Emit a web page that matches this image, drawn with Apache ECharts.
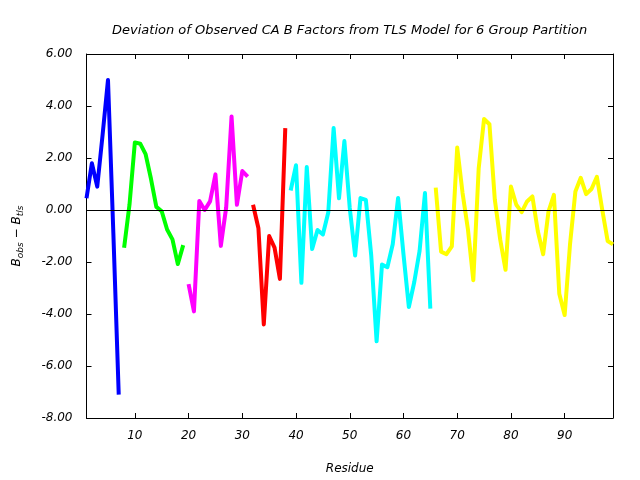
<!DOCTYPE html>
<html><head><meta charset="utf-8">
<script src="https://cdn.jsdelivr.net/npm/echarts@6/dist/echarts.min.js"></script>
<style>html,body{margin:0;padding:0;background:#fff}#c{width:640px;height:480px}</style>
</head><body><div id="c"></div>
<script>
const titleText = 'Deviation of Observed CA B Factors from TLS Model for 6 Group Partition';
const xTicks = [10, 20, 30, 40, 50, 60, 70, 80, 90];
const yTicks = [-8, -6, -4, -2, 0, 2, 4, 6];

// segment start residues
const startBlue = 1, startGreen = 8, startMagenta = 20, startRed = 32, startCyan = 39, startYellow = 66;

const blueVals = [0.45, 1.8, 0.9, 2.9, 5.0, -0.9, -7.1];
const greenVals = [-1.45, 0.2, 2.6, 2.55, 2.15, 1.2, 0.12, -0.05, -0.75, -1.13, -2.08, -1.35];
const magentaVals = [-2.85, -3.9, 0.35, 0.0, 0.33, 1.37, -1.38, 0.1, 3.6, 0.2, 1.5, 1.28];
const redVals = [0.2, -0.7, -4.4, -1.0, -1.45, -2.65, 3.15];
const cyanVals = [0.75, 1.72, -2.8, 1.65, -1.5, -0.77, -0.94, -0.1, 3.15, 0.45, 2.65, 0.08, -1.75, 0.46, 0.39, -1.75, -5.05, -2.1, -2.2, -1.32, 0.46, -1.7, -3.73, -2.78, -1.57, 0.65, -3.79];
const yellowVals = [0.86, -1.6, -1.7, -1.4, 2.4, 0.65, -0.75, -2.7, 1.6, 3.5, 3.3, 0.4, -1.13, -2.3, 0.9, 0.2, -0.08, 0.33, 0.52, -0.81, -1.7, -0.05, 0.58, -3.22, -4.04, -1.32, 0.71, 1.24, 0.61, 0.81, 1.28, 0.01, -1.19, -1.32];

const groups = [
  {start: startBlue, vals: blueVals, color: '#0000ff'},
  {start: startGreen, vals: greenVals, color: '#00ff00'},
  {start: startMagenta, vals: magentaVals, color: '#ff00ff'},
  {start: startRed, vals: redVals, color: '#ff0000'},
  {start: startCyan, vals: cyanVals, color: '#00ffff'},
  {start: startYellow, vals: yellowVals, color: '#ffff00'}
];

const FONT = 'DejaVu Sans';
const chart = echarts.init(document.getElementById('c'), null, {renderer: 'canvas'});

const series = [{
  type: 'line', data: [], silent: true, z: 1,
  markLine: {
    silent: true, symbol: 'none', label: {show: false},
    lineStyle: {color: '#000', width: 1, type: 'solid'},
    data: [{yAxis: 0}]
  }
}];
groups.forEach(g => {
  series.push({
    type: 'line', showSymbol: false, symbol: 'none', z: 3,
    lineStyle: {color: g.color, width: 4, cap: 'butt', join: 'round'},
    itemStyle: {color: g.color},
    data: g.vals.map((v, i) => [g.start + i, v])
  });
});

chart.setOption({
  animation: false,
  backgroundColor: '#fff',
  title: {
    text: titleText, left: 107, top: 19,
    textStyle: {fontFamily: FONT, fontStyle: 'italic', fontWeight: 'normal', fontSize: 13, color: '#000'}
  },
  grid: {left: 85, right: 27, top: 54, bottom: 58, containLabel: false},
  xAxis: [{
    type: 'value', min: 1, max: 99, position: 'bottom',
    name: 'Residue', nameLocation: 'middle', nameGap: 45,
    nameTextStyle: {fontFamily: FONT, fontStyle: 'italic', fontSize: 12, color: '#000'},
    axisLine: {show: true, onZero: false, lineStyle: {color: '#000', width: 1}},
    axisTick: {show: true, inside: true, length: 5, customValues: xTicks, lineStyle: {color: '#000'}},
    axisLabel: {show: true, customValues: xTicks, margin: 12, fontFamily: FONT, fontStyle: 'italic', fontSize: 12, color: '#000'},
    splitLine: {show: false}
  }, {
    type: 'value', min: 1, max: 99, position: 'top',
    axisLine: {show: true, onZero: false, lineStyle: {color: '#000', width: 1}},
    axisTick: {show: true, inside: true, length: 5, customValues: xTicks, lineStyle: {color: '#000'}},
    axisLabel: {show: false},
    splitLine: {show: false}
  }],
  yAxis: [{
    type: 'value', min: -8, max: 6, interval: 2, position: 'left',
    name: '{b|B}{s|obs}{b| − B}{s|tls}', nameLocation: 'middle', nameGap: 62, nameRotate: 90,
    nameTextStyle: {
      fontFamily: FONT, fontStyle: 'italic', fontSize: 12, color: '#000',
      rich: {
        b: {fontFamily: FONT, fontStyle: 'italic', fontSize: 12, color: '#000', lineHeight: 16, verticalAlign: 'middle'},
        s: {fontFamily: FONT, fontStyle: 'italic', fontSize: 9, color: '#000', lineHeight: 16, verticalAlign: 'middle', padding: [8, 0, 0, 0]}
      }
    },
    axisLine: {show: true, onZero: false, lineStyle: {color: '#000', width: 1}},
    axisTick: {show: true, inside: true, length: 5, lineStyle: {color: '#000'}},
    axisLabel: {show: true, margin: 14, formatter: v => v.toFixed(2), fontFamily: FONT, fontStyle: 'italic', fontSize: 12, color: '#000'},
    splitLine: {show: false}
  }, {
    type: 'value', min: -8, max: 6, interval: 2, position: 'right',
    axisLine: {show: true, onZero: false, lineStyle: {color: '#000', width: 1}},
    axisTick: {show: true, inside: true, length: 5, lineStyle: {color: '#000'}},
    axisLabel: {show: false},
    splitLine: {show: false}
  }],
  series: series
});
</script></body></html>
